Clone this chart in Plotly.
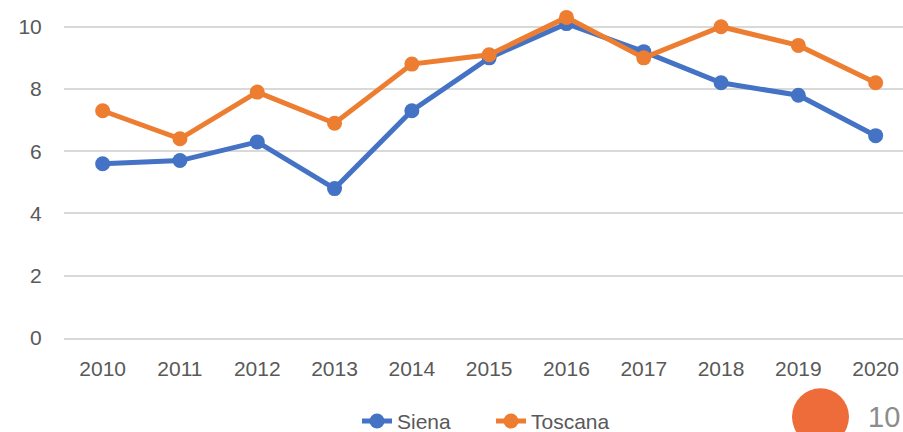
import plotly.graph_objects as go

years = [2010, 2011, 2012, 2013, 2014, 2015, 2016, 2017, 2018, 2019, 2020]
siena = [5.6, 5.7, 6.3, 4.8, 7.3, 9.0, 10.1, 9.2, 8.2, 7.8, 6.5]
toscana = [7.3, 6.4, 7.9, 6.9, 8.8, 9.1, 10.3, 9.0, 10.0, 9.4, 8.2]
y_ticks = [0, 2, 4, 6, 8, 10]
page_number = "10"

FONT = "Liberation Sans"
TICK_COLOR = "#595959"

W, H = 903, 432
LEFT = 64
ZERO_Y = 337.7          # screen y of the zero line
PX_PER_UNIT = 31.1
PLOT_H = ZERO_Y         # plot area runs from the top edge to the zero line
PLOT_W = W - LEFT


def py(screen_y):
    return (ZERO_Y - screen_y) / PLOT_H


def px(screen_x):
    return (screen_x - LEFT) / PLOT_W


fig = go.Figure()
fig.add_trace(go.Scatter(
    x=years, y=siena, name="Siena", mode="lines+markers",
    line=dict(color="#4472C4", width=5),
    marker=dict(color="#4472C4", size=15),
    cliponaxis=False,
))
fig.add_trace(go.Scatter(
    x=years, y=toscana, name="Toscana", mode="lines+markers",
    line=dict(color="#ED7D31", width=5),
    marker=dict(color="#ED7D31", size=15),
    cliponaxis=False,
))

fig.update_layout(
    width=W, height=H,
    margin=dict(l=LEFT, r=0, t=0, b=H - PLOT_H, autoexpand=False),
    paper_bgcolor="white", plot_bgcolor="white",
    font=dict(family=FONT, size=21, color=TICK_COLOR),
    showlegend=True,
    legend=dict(
        orientation="h", x=px(357), xanchor="left", y=py(421), yanchor="middle",
        font=dict(family=FONT, size=21, color=TICK_COLOR),
        itemwidth=30, entrywidth=89, entrywidthmode="pixels",
        traceorder="normal",
    ),
    xaxis=dict(
        range=[2009.5, 2009.5 + PLOT_W / 77.3],
        tickvals=years, ticktext=[str(y) for y in years],
        showgrid=False, zeroline=False,
        showline=True, linecolor="#d9d9d9", linewidth=2,
        ticks="outside", ticklen=11, tickcolor="rgba(0,0,0,0)",
        tickfont=dict(family=FONT, size=21, color=TICK_COLOR),
    ),
    yaxis=dict(
        range=[0, PLOT_H / PX_PER_UNIT],
        tickvals=y_ticks,
        showgrid=True, gridcolor="#d9d9d9", gridwidth=2,
        zeroline=False, showline=False,
        ticks="outside", ticklen=17, tickcolor="rgba(0,0,0,0)",
        tickfont=dict(family=FONT, size=21, color=TICK_COLOR),
    ),
    shapes=[dict(
        type="circle", xref="paper", yref="paper",
        xsizemode="pixel", ysizemode="pixel",
        xanchor=px(820.5), yanchor=py(416.5),
        x0=-28.5, x1=28.5, y0=-28.5, y1=28.5,
        fillcolor="#ED6C3A", line=dict(width=0), layer="above",
    )],
    annotations=[dict(
        text=page_number, xref="paper", yref="paper",
        x=px(866), y=py(417),
        xanchor="left", yanchor="middle", showarrow=False,
        font=dict(family=FONT, size=29, color="#8c8c8c"),
    )],
)

fig.write_html(
    "out.html",
    config={"displayModeBar": False},
    post_script="document.body.style.margin='0';document.body.style.overflow='hidden';",
)
